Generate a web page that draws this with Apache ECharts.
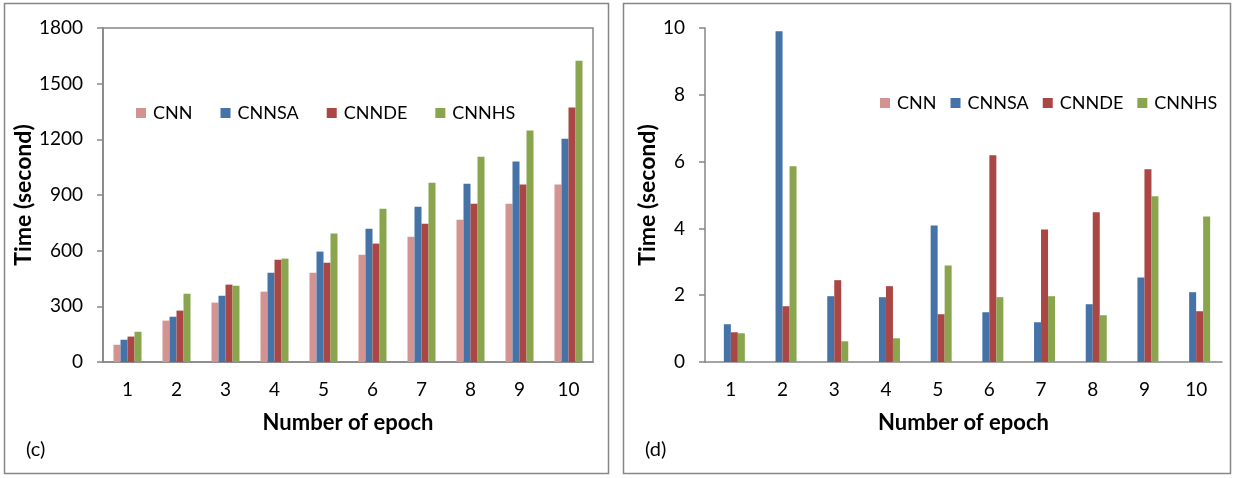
<!DOCTYPE html>
<html>
<head>
    <meta charset="UTF-8">
    <title>Time per epoch</title>
    <style>
        html, body { margin: 0; padding: 0; background: #fff; }
        #main { width: 1235px; height: 478px; }
    </style>
</head>
<body>
    <div id="main"></div>
    <script src="https://cdn.jsdelivr.net/npm/echarts@6/dist/echarts.min.js"></script>
    <script>
    // 数据 (c): total time
    var epochs = ['1', '2', '3', '4', '5', '6', '7', '8', '9', '10'];
    var seriesNames = ['CNN', 'CNNSA', 'CNNDE', 'CNNHS'];
    var colors = ['#D39391', '#4572A7', '#AA4643', '#89A54E'];

    var cCNN   = [93, 223, 320, 379, 481, 578, 675, 767, 853, 956];
    var cCNNSA = [120, 244, 357, 481, 595, 718, 837, 961, 1080, 1203];
    var cCNNDE = [137, 277, 417, 551, 535, 638, 745, 853, 956, 1371];
    var cCNNHS = [163, 368, 411, 557, 692, 826, 966, 1106, 1247, 1624];

    // 数据 (d): time of each epoch
    var dCNN   = [0, 0, 0, 0, 0, 0, 0, 0, 0, 0];
    var dCNNSA = [1.13, 9.90, 1.97, 1.94, 4.09, 1.49, 1.19, 1.73, 2.53, 2.09];
    var dCNNDE = [0.89, 1.67, 2.45, 2.27, 1.43, 6.19, 3.97, 4.48, 5.77, 1.52];
    var dCNNHS = [0.86, 5.86, 0.62, 0.71, 2.89, 1.94, 1.97, 1.40, 4.96, 4.36];

    var cTicks = { min: 0, max: 1800, interval: 300 };
    var dTicks = { min: 0, max: 10, interval: 2 };

    var FONT = 'Lato';
    var AXIS_GRAY = '#868686';

    function makeSeries(names, datas, idx) {
        var arr = [];
        for (var i = 0; i < names.length; i++) {
            arr.push({
                name: names[i],
                type: 'bar',
                xAxisIndex: idx,
                yAxisIndex: idx,
                barWidth: 7,
                barGap: '0%',
                itemStyle: { color: colors[i] },
                data: datas[i]
            });
        }
        return arr;
    }

    function xAxisOf(idx) {
        return {
            type: 'category',
            gridIndex: idx,
            data: epochs,
            name: 'Number of epoch',
            nameLocation: 'middle',
            nameGap: 50,
            nameTextStyle: { fontFamily: FONT, fontWeight: 'bold', fontSize: 22, color: '#000' },
            axisLine: { lineStyle: { color: AXIS_GRAY, width: 1.5 } },
            axisTick: { show: false },
            axisLabel: { margin: 18, fontFamily: FONT, fontSize: 19, color: '#000' }
        };
    }

    function yAxisOf(idx, t, gap, lblMargin) {
        return {
            type: 'value',
            gridIndex: idx,
            min: t.min,
            max: t.max,
            interval: t.interval,
            name: 'Time (second)',
            nameLocation: 'middle',
            nameGap: gap,
            nameTextStyle: { fontFamily: FONT, fontWeight: 'bold', fontSize: 23, color: '#000' },
            axisLine: { show: true, lineStyle: { color: AXIS_GRAY, width: 1.5 } },
            axisTick: { show: true, length: 6, lineStyle: { color: AXIS_GRAY, width: 1.5 } },
            splitLine: { show: false },
            axisLabel: {
                margin: lblMargin, fontFamily: FONT, fontSize: 19, color: '#000',
                formatter: function (v) { return String(v); }
            }
        };
    }

    function legendOf(left, top, gap) {
        return {
            left: left,
            top: top,
            itemWidth: 10,
            itemHeight: 10,
            itemGap: gap,
            icon: 'rect',
            data: seriesNames,
            selectedMode: false,
            textStyle: { fontFamily: FONT, fontSize: 18, color: '#000', padding: [0, 0, 0, 2] }
        };
    }

    var chart = echarts.init(document.getElementById('main'));
    var option = {
        animation: false,
        backgroundColor: '#fff',
        legend: [
            legendOf(131, 99, 28),
            legendOf(875, 89, 14)
        ],
        grid: [
            { left: 103, right: 642, top: 28, bottom: 116, show: true, borderColor: AXIS_GRAY, borderWidth: 1.5 },
            { left: 705, right: 13, top: 28, bottom: 116 }
        ],
        xAxis: [xAxisOf(0), xAxisOf(1)],
        yAxis: [yAxisOf(0, cTicks, 66, 20), yAxisOf(1, dTicks, 46, 20)],
        series: makeSeries(seriesNames, [cCNN, cCNNSA, cCNNDE, cCNNHS], 0)
            .concat(makeSeries(seriesNames, [dCNN, dCNNSA, dCNNDE, dCNNHS], 1)),
        graphic: [
            { type: 'rect', shape: { x: 4.5, y: 3.5, width: 604, height: 470 },
              style: { fill: 'none', stroke: AXIS_GRAY, lineWidth: 1.5 }, silent: true },
            { type: 'rect', shape: { x: 623.5, y: 3.5, width: 607, height: 470 },
              style: { fill: 'none', stroke: AXIS_GRAY, lineWidth: 1.5 }, silent: true },
            { type: 'text', left: 26, top: 440,
              style: { text: '(c)', fontFamily: FONT, fontSize: 20, fill: '#000' } },
            { type: 'text', left: 645, top: 440,
              style: { text: '(d)', fontFamily: FONT, fontSize: 20, fill: '#000' } }
        ]
    };
    chart.setOption(option);
    </script>
</body>
</html>
